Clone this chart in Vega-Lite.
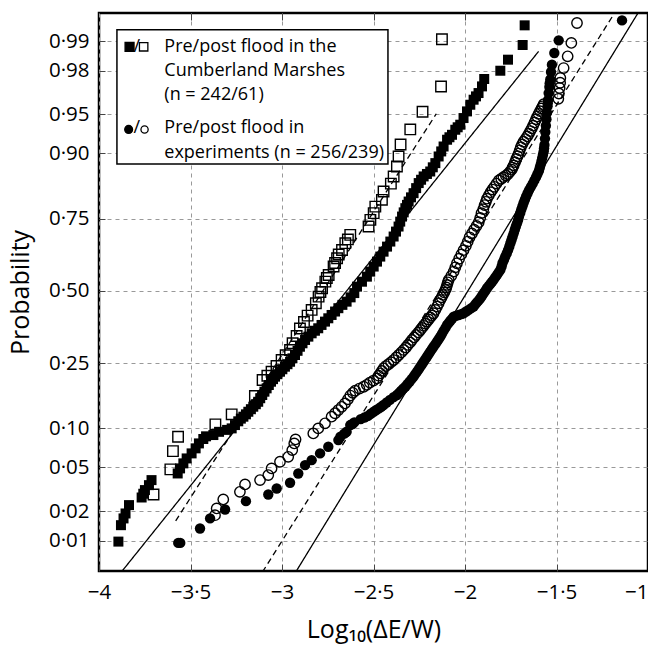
{
"$schema": "https://vega.github.io/schema/vega-lite/v6.json",
"width": 549, "height": 558,
"autosize": {"type": "none"},
"padding": {"left": 99, "top": 13, "right": 0, "bottom": 75},
"background": "white",
"config": {
  "view": {"stroke": "black", "strokeWidth": 2.5},
  "font": "Open Sans",
  "axis": {"labelFont": "Open Sans", "titleFont": "Open Sans", "labelColor": "black", "titleColor": "black", "titleFontWeight": "normal", "domain": false, "gridColor": "#999", "gridDash": [4, 4], "gridWidth": 1, "tickColor": "#444", "tickWidth": 1}
},
"datasets": {
  "fits": [
    {"id": "ms", "st": "solid", "x": -3.878, "z": -2.62}, {"id": "ms", "st": "solid", "x": -1.598, "z": 2.232},
    {"id": "md", "st": "dashed", "x": -3.581, "z": -2.143}, {"id": "md", "st": "dashed", "x": -2.157, "z": 1.651},
    {"id": "ed", "st": "dashed", "x": -3.107, "z": -2.62}, {"id": "ed", "st": "dashed", "x": -1.179, "z": 2.6},
    {"id": "es", "st": "solid", "x": -2.925, "z": -2.62}, {"id": "es", "st": "solid", "x": -1.051, "z": 2.6}
  ],
  "legbox": [{"x1": -3.902, "x2": -2.421, "z1": 2.435, "z2": 1.182}],
  "legsym": [
    {"k": "sf", "x": -3.833, "z": 2.275},
    {"k": "so", "x": -3.756, "z": 2.275},
    {"k": "cf", "x": -3.838, "z": 1.505},
    {"k": "co", "x": -3.751, "z": 1.505}
  ],
  "legtext": [
    {"x": -3.812, "z": 2.273, "t": "/"},
    {"x": -3.812, "z": 1.515, "t": "/"},
    {"x": -3.643, "z": 2.273, "t": "Pre/post flood in the"},
    {"x": -3.643, "z": 2.052, "t": "Cumberland Marshes"},
    {"x": -3.643, "z": 1.828, "t": "(n = 242/61)"},
    {"x": -3.643, "z": 1.521, "t": "Pre/post flood in"},
    {"x": -3.643, "z": 1.290, "t": "experiments (n = 256/239)"}
  ],
  "pts": [
    {"s":"mpre","x":-3.894,"z":-2.336},{"s":"mpre","x":-3.880,"z":-2.183},{"s":"mpre","x":-3.866,"z":-2.12},{"s":"mpre","x":-3.855,"z":-2.074},{"s":"mpre","x":-3.836,"z":-1.996},
    {"s":"mpre","x":-3.767,"z":-1.925},{"s":"mpre","x":-3.758,"z":-1.89},{"s":"mpre","x":-3.749,"z":-1.856},{"s":"mpre","x":-3.727,"z":-1.810},{"s":"mpre","x":-3.713,"z":-1.763},
    {"s":"mpre","x":-3.570,"z":-1.701},{"s":"mpre","x":-3.557,"z":-1.654},{"s":"mpre","x":-3.539,"z":-1.607},{"s":"mpre","x":-3.521,"z":-1.561},{"s":"mpre","x":-3.494,"z":-1.514},
    {"s":"mpre","x":-3.472,"z":-1.467},{"s":"mpre","x":-3.454,"z":-1.421},{"s":"mpre","x":-3.430,"z":-1.380},{"s":"mpre","x":-3.415,"z":-1.355},{"s":"mpre","x":-3.375,"z":-1.343},
    {"s":"mpre","x":-3.344,"z":-1.313},{"s":"mpre","x":-3.300,"z":-1.295},{"s":"mpre","x":-3.275,"z":-1.281},{"s":"mpre","x":-3.257,"z":-1.250},{"s":"mpre","x":-3.239,"z":-1.215},
    {"s":"mpre","x":-3.225,"z":-1.190},{"s":"mpre","x":-3.211,"z":-1.172},{"s":"mpre","x":-3.197,"z":-1.150},{"s":"mpre","x":-3.184,"z":-1.126},{"s":"mpre","x":-3.170,"z":-1.102},
    {"s":"mpre","x":-3.157,"z":-1.079},{"s":"mpre","x":-3.143,"z":-1.056},{"s":"mpre","x":-3.130,"z":-1.033},{"s":"mpre","x":-3.119,"z":-1.000},{"s":"mpre","x":-3.108,"z":-0.970},
    {"s":"mpre","x":-3.096,"z":-0.939},{"s":"mpre","x":-3.084,"z":-0.908},{"s":"mpre","x":-3.072,"z":-0.877},{"s":"mpre","x":-3.060,"z":-0.846},{"s":"mpre","x":-3.049,"z":-0.822},
    {"s":"mpre","x":-3.038,"z":-0.799},{"s":"mpre","x":-3.025,"z":-0.776},{"s":"mpre","x":-3.011,"z":-0.753},{"s":"mpre","x":-2.998,"z":-0.730},{"s":"mpre","x":-2.984,"z":-0.706},
    {"s":"mpre","x":-2.970,"z":-0.683},{"s":"mpre","x":-2.956,"z":-0.660},{"s":"mpre","x":-2.943,"z":-0.628},{"s":"mpre","x":-2.929,"z":-0.597},{"s":"mpre","x":-2.915,"z":-0.558},
    {"s":"mpre","x":-2.902,"z":-0.520},{"s":"mpre","x":-2.888,"z":-0.488},{"s":"mpre","x":-2.874,"z":-0.457},{"s":"mpre","x":-2.856,"z":-0.426},{"s":"mpre","x":-2.838,"z":-0.395},
    {"s":"mpre","x":-2.820,"z":-0.371},{"s":"mpre","x":-2.802,"z":-0.348},{"s":"mpre","x":-2.784,"z":-0.317},{"s":"mpre","x":-2.765,"z":-0.286},{"s":"mpre","x":-2.747,"z":-0.255},
    {"s":"mpre","x":-2.729,"z":-0.224},{"s":"mpre","x":-2.710,"z":-0.192},{"s":"mpre","x":-2.692,"z":-0.161},{"s":"mpre","x":-2.670,"z":-0.130},{"s":"mpre","x":-2.647,"z":-0.100},
    {"s":"mpre","x":-2.625,"z":-0.060},{"s":"mpre","x":-2.605,"z":-0.020},{"s":"mpre","x":-2.590,"z":0.040},{"s":"mpre","x":-2.563,"z":0.086},{"s":"mpre","x":-2.536,"z":0.133},
    {"s":"mpre","x":-2.518,"z":0.180},{"s":"mpre","x":-2.499,"z":0.227},{"s":"mpre","x":-2.481,"z":0.273},{"s":"mpre","x":-2.463,"z":0.320},{"s":"mpre","x":-2.445,"z":0.366},
    {"s":"mpre","x":-2.426,"z":0.413},{"s":"mpre","x":-2.408,"z":0.460},{"s":"mpre","x":-2.390,"z":0.507},{"s":"mpre","x":-2.377,"z":0.553},{"s":"mpre","x":-2.363,"z":0.600},
    {"s":"mpre","x":-2.354,"z":0.646},{"s":"mpre","x":-2.344,"z":0.693},{"s":"mpre","x":-2.335,"z":0.732},{"s":"mpre","x":-2.326,"z":0.771},{"s":"mpre","x":-2.317,"z":0.802},
    {"s":"mpre","x":-2.308,"z":0.833},{"s":"mpre","x":-2.295,"z":0.872},{"s":"mpre","x":-2.281,"z":0.911},{"s":"mpre","x":-2.267,"z":0.958},{"s":"mpre","x":-2.253,"z":1.005},
    {"s":"mpre","x":-2.240,"z":1.036},{"s":"mpre","x":-2.226,"z":1.067},{"s":"mpre","x":-2.208,"z":1.090},{"s":"mpre","x":-2.190,"z":1.113},{"s":"mpre","x":-2.176,"z":1.152},
    {"s":"mpre","x":-2.162,"z":1.191},{"s":"mpre","x":-2.144,"z":1.253},{"s":"mpre","x":-2.130,"z":1.300},{"s":"mpre","x":-2.117,"z":1.346},{"s":"mpre","x":-2.098,"z":1.409},
    {"s":"mpre","x":-2.085,"z":1.432},{"s":"mpre","x":-2.071,"z":1.455},{"s":"mpre","x":-2.053,"z":1.502},{"s":"mpre","x":-2.040,"z":1.525},{"s":"mpre","x":-2.026,"z":1.549},
    {"s":"mpre","x":-2.008,"z":1.611},{"s":"mpre","x":-1.989,"z":1.673},{"s":"mpre","x":-1.971,"z":1.735},{"s":"mpre","x":-1.953,"z":1.782},{"s":"mpre","x":-1.940,"z":1.813},
    {"s":"mpre","x":-1.926,"z":1.844},{"s":"mpre","x":-1.907,"z":1.906},{"s":"mpre","x":-1.895,"z":1.975},{"s":"mpre","x":-1.807,"z":2.052},{"s":"mpre","x":-1.765,"z":2.155},
    {"s":"mpre","x":-1.685,"z":2.292},{"s":"mpre","x":-1.674,"z":2.475},

    {"s":"mpost","x":-3.702,"z":-1.897},{"s":"mpost","x":-3.610,"z":-1.663},{"s":"mpost","x":-3.596,"z":-1.493},{"s":"mpost","x":-3.568,"z":-1.359},{"s":"mpost","x":-3.364,"z":-1.244},
    {"s":"mpost","x":-3.275,"z":-1.150},{"s":"mpost","x":-3.148,"z":-0.979},{"s":"mpost","x":-3.106,"z":-0.830},{"s":"mpost","x":-3.080,"z":-0.790},{"s":"mpost","x":-3.057,"z":-0.753},
    {"s":"mpost","x":-3.030,"z":-0.700},{"s":"mpost","x":-3.002,"z":-0.644},{"s":"mpost","x":-2.980,"z":-0.600},{"s":"mpost","x":-2.956,"z":-0.550},{"s":"mpost","x":-2.942,"z":-0.488},
    {"s":"mpost","x":-2.920,"z":-0.420},{"s":"mpost","x":-2.902,"z":-0.350},{"s":"mpost","x":-2.880,"z":-0.290},{"s":"mpost","x":-2.860,"z":-0.230},{"s":"mpost","x":-2.838,"z":-0.177},
    {"s":"mpost","x":-2.815,"z":-0.115},{"s":"mpost","x":-2.800,"z":-0.053},{"s":"mpost","x":-2.790,"z":-0.010},{"s":"mpost","x":-2.781,"z":0.025},{"s":"mpost","x":-2.763,"z":0.087},
    {"s":"mpost","x":-2.755,"z":0.120},{"s":"mpost","x":-2.745,"z":0.149},{"s":"mpost","x":-2.718,"z":0.227},{"s":"mpost","x":-2.710,"z":0.260},{"s":"mpost","x":-2.699,"z":0.305},
    {"s":"mpost","x":-2.690,"z":0.340},{"s":"mpost","x":-2.672,"z":0.382},{"s":"mpost","x":-2.654,"z":0.445},{"s":"mpost","x":-2.640,"z":0.480},{"s":"mpost","x":-2.627,"z":0.522},
    {"s":"mpost","x":-2.527,"z":0.600},{"s":"mpost","x":-2.517,"z":0.662},{"s":"mpost","x":-2.499,"z":0.725},{"s":"mpost","x":-2.490,"z":0.786},{"s":"mpost","x":-2.454,"z":0.849},
    {"s":"mpost","x":-2.445,"z":0.926},{"s":"mpost","x":-2.405,"z":1.000},{"s":"mpost","x":-2.390,"z":1.066},{"s":"mpost","x":-2.372,"z":1.160},{"s":"mpost","x":-2.363,"z":1.253},
    {"s":"mpost","x":-2.352,"z":1.365},{"s":"mpost","x":-2.299,"z":1.505},{"s":"mpost","x":-2.232,"z":1.670},{"s":"mpost","x":-2.131,"z":1.905},{"s":"mpost","x":-2.126,"z":2.345},

    {"s":"epre","x":-3.567,"z":-2.348},{"s":"epre","x":-3.556,"z":-2.348},{"s":"epre","x":-3.448,"z":-2.214},{"s":"epre","x":-3.393,"z":-2.120},{"s":"epre","x":-3.311,"z":-2.037},
    {"s":"epre","x":-3.197,"z":-1.959},{"s":"epre","x":-3.075,"z":-1.897},{"s":"epre","x":-3.029,"z":-1.841},{"s":"epre","x":-2.956,"z":-1.788},{"s":"epre","x":-2.911,"z":-1.701},
    {"s":"epre","x":-2.874,"z":-1.623},{"s":"epre","x":-2.838,"z":-1.577},{"s":"epre","x":-2.792,"z":-1.514},{"s":"epre","x":-2.747,"z":-1.452},{"s":"epre","x":-2.692,"z":-1.390},
    {"s":"epre","x":-2.681,"z":-1.359},{"s":"epre","x":-2.647,"z":-1.312},{"s":"epre","x":-2.627,"z":-1.250},{"s":"epre","x":-2.605,"z":-1.225},{"s":"epre","x":-2.570,"z":-1.195},
    {"s":"epre","x":-2.530,"z":-1.165},{"s":"epre","x":-2.499,"z":-1.126},{"s":"epre","x":-2.470,"z":-1.095},{"s":"epre","x":-2.445,"z":-1.063},{"s":"epre","x":-2.410,"z":-1.015},
    {"s":"epre","x":-2.372,"z":-0.970},{"s":"epre","x":-2.350,"z":-0.932},{"s":"epre","x":-2.326,"z":-0.893},{"s":"epre","x":-2.303,"z":-0.846},{"s":"epre","x":-2.281,"z":-0.799},
    {"s":"epre","x":-2.262,"z":-0.752},{"s":"epre","x":-2.244,"z":-0.706},{"s":"epre","x":-2.226,"z":-0.660},{"s":"epre","x":-2.208,"z":-0.613},{"s":"epre","x":-2.190,"z":-0.566},
    {"s":"epre","x":-2.172,"z":-0.520},{"s":"epre","x":-2.153,"z":-0.473},{"s":"epre","x":-2.135,"z":-0.426},{"s":"epre","x":-2.117,"z":-0.372},{"s":"epre","x":-2.098,"z":-0.317},
    {"s":"epre","x":-2.080,"z":-0.278},{"s":"epre","x":-2.062,"z":-0.240},{"s":"epre","x":-2.035,"z":-0.224},{"s":"epre","x":-2.008,"z":-0.208},{"s":"epre","x":-1.980,"z":-0.177},
    {"s":"epre","x":-1.953,"z":-0.146},{"s":"epre","x":-1.935,"z":-0.107},{"s":"epre","x":-1.916,"z":-0.068},{"s":"epre","x":-1.898,"z":-0.022},{"s":"epre","x":-1.880,"z":0.025},
    {"s":"epre","x":-1.862,"z":0.064},{"s":"epre","x":-1.844,"z":0.103},{"s":"epre","x":-1.825,"z":0.150},{"s":"epre","x":-1.807,"z":0.196},{"s":"epre","x":-1.795,"z":0.260},
    {"s":"epre","x":-1.780,"z":0.320},{"s":"epre","x":-1.765,"z":0.380},{"s":"epre","x":-1.752,"z":0.445},{"s":"epre","x":-1.740,"z":0.505},{"s":"epre","x":-1.728,"z":0.570},
    {"s":"epre","x":-1.716,"z":0.630},{"s":"epre","x":-1.705,"z":0.693},{"s":"epre","x":-1.692,"z":0.760},{"s":"epre","x":-1.680,"z":0.820},{"s":"epre","x":-1.666,"z":0.880},
    {"s":"epre","x":-1.650,"z":0.940},{"s":"epre","x":-1.630,"z":1.000},{"s":"epre","x":-1.612,"z":1.060},{"s":"epre","x":-1.596,"z":1.120},{"s":"epre","x":-1.586,"z":1.180},
    {"s":"epre","x":-1.578,"z":1.240},{"s":"epre","x":-1.570,"z":1.300},{"s":"epre","x":-1.566,"z":1.360},{"s":"epre","x":-1.563,"z":1.420},{"s":"epre","x":-1.561,"z":1.480},
    {"s":"epre","x":-1.558,"z":1.540},{"s":"epre","x":-1.555,"z":1.600},{"s":"epre","x":-1.552,"z":1.660},{"s":"epre","x":-1.549,"z":1.720},{"s":"epre","x":-1.546,"z":1.780},
    {"s":"epre","x":-1.543,"z":1.844},{"s":"epre","x":-1.539,"z":1.900},{"s":"epre","x":-1.534,"z":1.970},{"s":"epre","x":-1.525,"z":2.108},{"s":"epre","x":-1.512,"z":2.217},
    {"s":"epre","x":-1.488,"z":2.335},{"s":"epre","x":-1.142,"z":2.521},
    {"s":"epre","x":-2.660,"z":-1.330},{"s":"epre","x":-2.615,"z":-1.240},{"s":"epre","x":-2.550,"z":-1.180},{"s":"epre","x":-2.515,"z":-1.145},{"s":"epre","x":-2.485,"z":-1.110},
    {"s":"epre","x":-2.458,"z":-1.080},{"s":"epre","x":-2.428,"z":-1.040},{"s":"epre","x":-2.390,"z":-0.990},{"s":"epre","x":-2.360,"z":-0.950},{"s":"epre","x":-2.338,"z":-0.912},
    {"s":"epre","x":-2.315,"z":-0.870},{"s":"epre","x":-2.292,"z":-0.822},{"s":"epre","x":-2.272,"z":-0.776},{"s":"epre","x":-2.253,"z":-0.730},{"s":"epre","x":-2.235,"z":-0.683},
    {"s":"epre","x":-2.217,"z":-0.636},{"s":"epre","x":-2.199,"z":-0.590},{"s":"epre","x":-2.181,"z":-0.543},{"s":"epre","x":-2.162,"z":-0.496},{"s":"epre","x":-2.144,"z":-0.450},
    {"s":"epre","x":-2.126,"z":-0.400},{"s":"epre","x":-2.107,"z":-0.345},{"s":"epre","x":-2.089,"z":-0.298},{"s":"epre","x":-2.071,"z":-0.260},{"s":"epre","x":-2.050,"z":-0.232},
    {"s":"epre","x":-2.020,"z":-0.216},{"s":"epre","x":-1.994,"z":-0.192},{"s":"epre","x":-1.966,"z":-0.160},{"s":"epre","x":-1.944,"z":-0.126},{"s":"epre","x":-1.925,"z":-0.088},
    {"s":"epre","x":-1.907,"z":-0.045},{"s":"epre","x":-1.889,"z":0.000},{"s":"epre","x":-1.871,"z":0.045},{"s":"epre","x":-1.853,"z":0.083},{"s":"epre","x":-1.835,"z":0.126},
    {"s":"epre","x":-1.816,"z":0.173},{"s":"epre","x":-1.800,"z":0.228},{"s":"epre","x":-1.787,"z":0.290},{"s":"epre","x":-1.772,"z":0.350},{"s":"epre","x":-1.758,"z":0.412},
    {"s":"epre","x":-1.746,"z":0.475},{"s":"epre","x":-1.734,"z":0.537},{"s":"epre","x":-1.722,"z":0.600},{"s":"epre","x":-1.710,"z":0.660},{"s":"epre","x":-1.698,"z":0.727},
    {"s":"epre","x":-1.686,"z":0.790},{"s":"epre","x":-1.673,"z":0.850},{"s":"epre","x":-1.658,"z":0.910},{"s":"epre","x":-1.640,"z":0.970},{"s":"epre","x":-1.621,"z":1.030},
    {"s":"epre","x":-1.604,"z":1.090},{"s":"epre","x":-1.591,"z":1.150},{"s":"epre","x":-1.582,"z":1.210},{"s":"epre","x":-1.574,"z":1.270},{"s":"epre","x":-1.568,"z":1.330},
    {"s":"epre","x":-1.548,"z":1.750},{"s":"epre","x":-1.537,"z":1.935},{"s":"epre","x":-1.530,"z":2.040},

    {"s":"epost","x":-3.366,"z":-2.090},{"s":"epost","x":-3.357,"z":-2.027},{"s":"epost","x":-3.321,"z":-1.943},{"s":"epost","x":-3.230,"z":-1.872},{"s":"epost","x":-3.202,"z":-1.803},
    {"s":"epost","x":-3.120,"z":-1.763},{"s":"epost","x":-3.075,"z":-1.716},{"s":"epost","x":-3.057,"z":-1.654},{"s":"epost","x":-3.011,"z":-1.592},{"s":"epost","x":-2.966,"z":-1.546},
    {"s":"epost","x":-2.944,"z":-1.483},{"s":"epost","x":-2.933,"z":-1.421},{"s":"epost","x":-2.926,"z":-1.384},{"s":"epost","x":-2.829,"z":-1.328},{"s":"epost","x":-2.802,"z":-1.281},
    {"s":"epost","x":-2.765,"z":-1.234},{"s":"epost","x":-2.729,"z":-1.172},{"s":"epost","x":-2.692,"z":-1.110},{"s":"epost","x":-2.656,"z":-1.048},{"s":"epost","x":-2.627,"z":-0.975},
    {"s":"epost","x":-2.600,"z":-0.930},{"s":"epost","x":-2.554,"z":-0.893},{"s":"epost","x":-2.520,"z":-0.855},{"s":"epost","x":-2.481,"z":-0.815},{"s":"epost","x":-2.463,"z":-0.768},
    {"s":"epost","x":-2.445,"z":-0.721},{"s":"epost","x":-2.418,"z":-0.683},{"s":"epost","x":-2.390,"z":-0.644},{"s":"epost","x":-2.362,"z":-0.597},{"s":"epost","x":-2.335,"z":-0.550},
    {"s":"epost","x":-2.312,"z":-0.503},{"s":"epost","x":-2.290,"z":-0.457},{"s":"epost","x":-2.267,"z":-0.410},{"s":"epost","x":-2.244,"z":-0.364},{"s":"epost","x":-2.226,"z":-0.325},
    {"s":"epost","x":-2.208,"z":-0.286},{"s":"epost","x":-2.190,"z":-0.247},{"s":"epost","x":-2.172,"z":-0.208},{"s":"epost","x":-2.153,"z":-0.146},{"s":"epost","x":-2.135,"z":-0.084},
    {"s":"epost","x":-2.121,"z":-0.037},{"s":"epost","x":-2.107,"z":0.009},{"s":"epost","x":-2.098,"z":0.056},{"s":"epost","x":-2.089,"z":0.103},{"s":"epost","x":-2.062,"z":0.180},
    {"s":"epost","x":-2.044,"z":0.258},{"s":"epost","x":-2.020,"z":0.340},{"s":"epost","x":-1.995,"z":0.420},{"s":"epost","x":-1.975,"z":0.500},{"s":"epost","x":-1.950,"z":0.570},
    {"s":"epost","x":-1.925,"z":0.640},{"s":"epost","x":-1.910,"z":0.725},{"s":"epost","x":-1.893,"z":0.800},{"s":"epost","x":-1.880,"z":0.860},{"s":"epost","x":-1.860,"z":0.920},
    {"s":"epost","x":-1.840,"z":0.970},{"s":"epost","x":-1.815,"z":1.030},{"s":"epost","x":-1.790,"z":1.060},{"s":"epost","x":-1.765,"z":1.090},{"s":"epost","x":-1.745,"z":1.130},
    {"s":"epost","x":-1.734,"z":1.170},{"s":"epost","x":-1.720,"z":1.230},{"s":"epost","x":-1.707,"z":1.280},{"s":"epost","x":-1.695,"z":1.340},{"s":"epost","x":-1.680,"z":1.390},
    {"s":"epost","x":-1.660,"z":1.440},{"s":"epost","x":-1.643,"z":1.490},{"s":"epost","x":-1.628,"z":1.540},{"s":"epost","x":-1.612,"z":1.600},{"s":"epost","x":-1.598,"z":1.650},
    {"s":"epost","x":-1.582,"z":1.700},{"s":"epost","x":-1.570,"z":1.740},{"s":"epost","x":-1.490,"z":1.790},{"s":"epost","x":-1.487,"z":1.840},{"s":"epost","x":-1.483,"z":1.891},
    {"s":"epost","x":-1.480,"z":1.940},{"s":"epost","x":-1.479,"z":1.985},{"s":"epost","x":-1.461,"z":2.077},{"s":"epost","x":-1.439,"z":2.186},{"s":"epost","x":-1.419,"z":2.311},
    {"s":"epost","x":-1.388,"z":2.497},
    {"s":"epost","x":-2.710,"z":-1.140},{"s":"epost","x":-2.674,"z":-1.080},{"s":"epost","x":-2.640,"z":-1.010},{"s":"epost","x":-2.613,"z":-0.950},{"s":"epost","x":-2.577,"z":-0.910},
    {"s":"epost","x":-2.537,"z":-0.875},{"s":"epost","x":-2.500,"z":-0.835},{"s":"epost","x":-2.472,"z":-0.790},{"s":"epost","x":-2.454,"z":-0.745},{"s":"epost","x":-2.432,"z":-0.700},
    {"s":"epost","x":-2.404,"z":-0.664},{"s":"epost","x":-2.376,"z":-0.620},{"s":"epost","x":-2.348,"z":-0.573},{"s":"epost","x":-2.323,"z":-0.527},{"s":"epost","x":-2.300,"z":-0.480},
    {"s":"epost","x":-2.278,"z":-0.433},{"s":"epost","x":-2.255,"z":-0.387},{"s":"epost","x":-2.235,"z":-0.345},{"s":"epost","x":-2.217,"z":-0.305},{"s":"epost","x":-2.199,"z":-0.266},
    {"s":"epost","x":-2.181,"z":-0.228},{"s":"epost","x":-2.162,"z":-0.177},{"s":"epost","x":-2.144,"z":-0.115},{"s":"epost","x":-2.128,"z":-0.060},{"s":"epost","x":-2.114,"z":-0.014},
    {"s":"epost","x":-2.102,"z":0.032},{"s":"epost","x":-2.094,"z":0.080},{"s":"epost","x":-2.075,"z":0.140},{"s":"epost","x":-2.053,"z":0.220},{"s":"epost","x":-2.032,"z":0.300},
    {"s":"epost","x":-2.008,"z":0.380},{"s":"epost","x":-1.985,"z":0.460},{"s":"epost","x":-1.962,"z":0.535},{"s":"epost","x":-1.937,"z":0.605},{"s":"epost","x":-1.917,"z":0.680},
    {"s":"epost","x":-1.900,"z":0.762},{"s":"epost","x":-1.886,"z":0.830},{"s":"epost","x":-1.870,"z":0.890},{"s":"epost","x":-1.850,"z":0.945},{"s":"epost","x":-1.828,"z":1.000},
    {"s":"epost","x":-1.802,"z":1.045},{"s":"epost","x":-1.777,"z":1.075},{"s":"epost","x":-1.755,"z":1.110},{"s":"epost","x":-1.740,"z":1.150},{"s":"epost","x":-1.727,"z":1.200},
    {"s":"epost","x":-1.713,"z":1.255},{"s":"epost","x":-1.701,"z":1.310},{"s":"epost","x":-1.688,"z":1.365},{"s":"epost","x":-1.670,"z":1.415},{"s":"epost","x":-1.651,"z":1.465},
    {"s":"epost","x":-1.635,"z":1.515},{"s":"epost","x":-1.620,"z":1.570},{"s":"epost","x":-1.605,"z":1.625},{"s":"epost","x":-1.590,"z":1.675},{"s":"epost","x":-1.576,"z":1.720}
  ]
},
"resolve": {"axis": {"x": "independent", "y": "independent"}},
"layer": [
  {
    "data": {"name": "pts"},
    "transform": [{"filter": "datum.s == 'mpre'"}],
    "mark": {"type": "point", "shape": "square", "filled": true, "color": "black", "opacity": 1, "size": 100, "clip": true},
    "encoding": {
      "x": {"field": "x", "type": "quantitative", "scale": {"domain": [-4, -1], "nice": false, "zero": false},
        "axis": {"orient": "bottom", "values": [-4, -3.5, -3, -2.5, -2, -1.5, -1], "labelExpr": "replace(format(datum.value, '.1~f'), '.', '·')", "labelFontSize": 20.5, "labelAlign": {"condition": {"test": "datum.value == -1", "value": "right"}, "value": "center"}, "tickSize": -7, "labelPadding": 18, "labelFlush": false, "grid": true, "title": "Log₁₀(ΔE/W)", "titleFontSize": 25, "titlePadding": 15}},
      "y": {"field": "z", "type": "quantitative", "scale": {"domain": [-2.61, 2.59], "nice": false, "zero": false},
        "axis": {"orient": "left", "values": [-2.3263, -2.0537, -1.6449, -1.2816, -0.6745, 0, 0.6745, 1.2816, 1.6449, 2.0537, 2.3263], "labelExpr": "replace(format(cumulativeNormal(datum.value), '.2f'), '.', '·')", "labelFontSize": 20.5, "tickSize": -6, "labelPadding": 16, "grid": true, "title": "Probability", "titleFontSize": 25, "titleX": -66}}
    }
  },
  {
    "data": {"name": "pts"},
    "transform": [{"filter": "datum.s == 'mpost'"}],
    "mark": {"type": "point", "shape": "square", "filled": false, "color": "black", "opacity": 1, "strokeWidth": 1.4, "size": 110, "clip": true},
    "encoding": {
      "x": {"field": "x", "type": "quantitative", "axis": null},
      "y": {"field": "z", "type": "quantitative", "axis": null}
    }
  },
  {
    "data": {"name": "pts"},
    "transform": [{"filter": "datum.s == 'epre'"}],
    "mark": {"type": "point", "shape": "circle", "filled": true, "color": "black", "opacity": 1, "size": 108, "clip": true},
    "encoding": {
      "x": {"field": "x", "type": "quantitative", "axis": null},
      "y": {"field": "z", "type": "quantitative", "axis": null}
    }
  },
  {
    "data": {"name": "pts"},
    "transform": [{"filter": "datum.s == 'epost'"}],
    "mark": {"type": "point", "shape": "circle", "filled": false, "color": "black", "opacity": 1, "strokeWidth": 1.4, "size": 108, "clip": true},
    "encoding": {
      "x": {"field": "x", "type": "quantitative", "axis": null},
      "y": {"field": "z", "type": "quantitative", "axis": null}
    }
  },
  {
    "data": {"name": "fits"},
    "mark": {"type": "line", "color": "black", "strokeWidth": 1.3, "clip": true},
    "encoding": {
      "x": {"field": "x", "type": "quantitative", "axis": null},
      "y": {"field": "z", "type": "quantitative", "axis": null},
      "detail": {"field": "id"},
      "strokeDash": {"field": "st", "type": "nominal", "scale": {"domain": ["solid", "dashed"], "range": [[1, 0], [6, 4]]}, "legend": null}
    }
  },
  {
    "data": {"name": "legbox"},
    "mark": {"type": "rect", "fill": "white", "stroke": "black", "strokeWidth": 1.5},
    "encoding": {
      "x": {"field": "x1", "type": "quantitative",
        "axis": {"orient": "top", "values": [-3.5, -3, -2.5, -2, -1.5], "labels": false, "tickSize": -7, "grid": false, "title": null}},
      "x2": {"field": "x2"},
      "y": {"field": "z1", "type": "quantitative", "axis": null},
      "y2": {"field": "z2"}
    }
  },
  {
    "data": {"name": "legsym"},
    "mark": {"type": "point", "color": "black", "opacity": 1, "strokeWidth": 1.3},
    "encoding": {
      "x": {"field": "x", "type": "quantitative", "axis": null},
      "y": {"field": "z", "type": "quantitative", "axis": null},
      "shape": {"field": "k", "type": "nominal", "scale": {"domain": ["sf", "so", "cf", "co"], "range": ["square", "square", "circle", "circle"]}, "legend": null},
      "size": {"field": "k", "type": "nominal", "scale": {"domain": ["sf", "so", "cf", "co"], "range": [80, 52, 100, 66]}, "legend": null},
      "fill": {"field": "k", "type": "nominal", "scale": {"domain": ["sf", "so", "cf", "co"], "range": ["black", "transparent", "black", "transparent"]}, "legend": null}
    }
  },
  {
    "data": {"name": "legtext"},
    "mark": {"type": "text", "align": "left", "baseline": "middle", "font": "Open Sans", "fontSize": 18, "color": "black"},
    "encoding": {
      "x": {"field": "x", "type": "quantitative", "axis": null},
      "y": {"field": "z", "type": "quantitative", "axis": null},
      "text": {"field": "t"}
    }
  }
]
}
